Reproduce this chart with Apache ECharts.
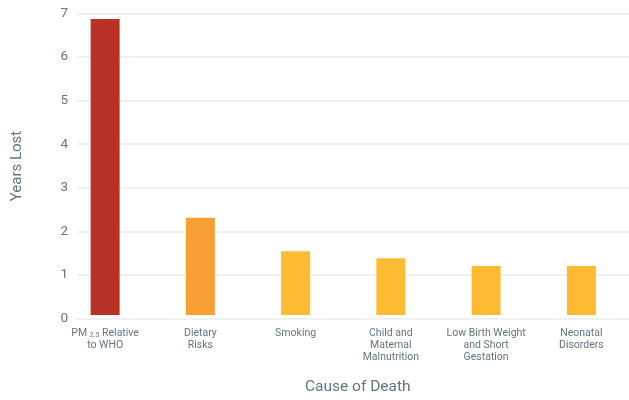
<!DOCTYPE html>
<html>
<head>
<meta charset="utf-8">
<script src="https://cdn.jsdelivr.net/npm/echarts@6/dist/echarts.min.js"></script>
<style>html,body{margin:0;padding:0;background:#fff;}#c{width:629px;height:400px;}</style>
</head>
<body>
<div id="c"></div>
<script>
const categories = ['PM2.5 Relative to WHO', 'Dietary Risks', 'Smoking', 'Child and Maternal Malnutrition', 'Low Birth Weight and Short Gestation', 'Neonatal Disorders'];
const categoryLabels = ['{n|PM }{s|2.5}{n| Relative}\nto WHO', 'Dietary\nRisks', 'Smoking', 'Child and\nMaternal\nMalnutrition', 'Low Birth Weight\nand Short\nGestation', 'Neonatal\nDisorders'];
const yearsLost = [6.87, 2.26, 1.48, 1.32, 1.14, 1.14];
const barColors = ['#BA3127', '#F99F33', '#FDBB34', '#FDBB34', '#FDBB34', '#FDBB34'];
const yTicks = [0, 1, 2, 3, 4, 5, 6, 7];

const font = 'Roboto, "Liberation Sans", sans-serif';
const txt = '#647482';
const chart = echarts.init(document.getElementById('c'), null, {renderer: 'canvas'});
chart.setOption({
  animation: false,
  textStyle: {fontFamily: font},
  grid: [
    {left: 77, right: 0, top: 13.5, bottom: 81.5},
    {left: 57.5, width: 576, top: 13.5, bottom: 81.5}
  ],
  xAxis: [
    {gridIndex: 0, type: 'category', data: categories, show: false},
    {
      gridIndex: 1, type: 'category', data: categories,
      axisLine: {show: false}, axisTick: {show: false},
      axisLabel: {
        interval: 0, margin: 12, fontSize: 10.5, lineHeight: 12, color: txt, fontFamily: font,
        formatter: (v, i) => categoryLabels[i],
        rich: {
          n: {fontSize: 10.5, color: txt, fontFamily: font, lineHeight: 12},
          s: {fontSize: 7, color: txt, fontFamily: font, verticalAlign: 'bottom', padding: [6, 0, 0, 0], lineHeight: 12}
        }
      },
      name: 'Cause of Death', nameLocation: 'middle', nameGap: 64,
      nameTextStyle: {fontSize: 15.5, color: txt, fontFamily: font, padding: [0, 0, 0, 29]}
    }
  ],
  yAxis: [
    {
      gridIndex: 0, type: 'value', min: yTicks[0], max: yTicks[yTicks.length - 1], interval: 1,
      axisLine: {show: false}, axisTick: {show: false},
      axisLabel: {fontSize: 13.5, color: txt, margin: 9, fontFamily: font},
      splitLine: {lineStyle: {color: '#ececec', width: 1.5}},
      name: 'Years Lost', nameLocation: 'middle', nameRotate: 90, nameGap: 52,
      nameTextStyle: {fontSize: 15, color: txt, fontFamily: font}
    },
    {gridIndex: 1, type: 'value', min: yTicks[0], max: yTicks[yTicks.length - 1], interval: 1, show: false, splitLine: {show: false}}
  ],
  series: [{
    type: 'bar', xAxisIndex: 1, yAxisIndex: 1, barWidth: 29,
    data: yearsLost.map((v, i) => ({value: v, itemStyle: {color: barColors[i]}}))
  }]
});
</script>
</body>
</html>
